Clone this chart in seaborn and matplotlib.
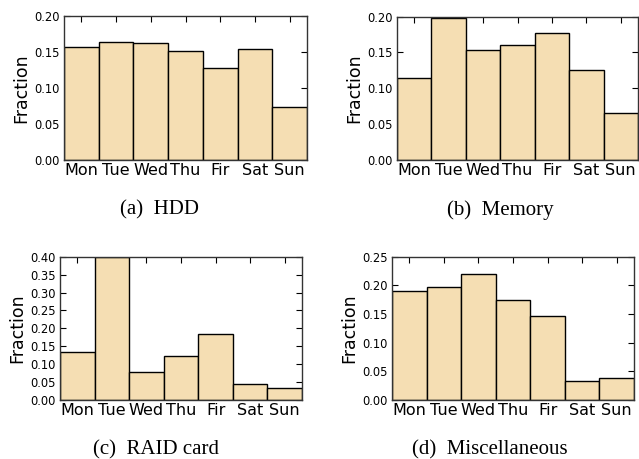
import matplotlib
matplotlib.use("Agg")
import matplotlib.pyplot as plt
import seaborn as sns
import numpy as np

days = ["Mon", "Tue", "Wed", "Thu", "Fir", "Sat", "Sun"]
hdd = [0.157, 0.164, 0.162, 0.152, 0.128, 0.154, 0.073]
memory = [0.114, 0.198, 0.153, 0.161, 0.177, 0.125, 0.066]
raid = [0.133, 0.400, 0.079, 0.122, 0.185, 0.046, 0.033]
misc = [0.191, 0.197, 0.219, 0.174, 0.146, 0.034, 0.038]

captions = ["(a)  HDD", "(b)  Memory", "(c)  RAID card", "(d)  Miscellaneous"]
ymaxes = [0.20, 0.20, 0.40, 0.25]

sns.set_style("ticks")
plt.rcParams["font.family"] = ["DejaVu Sans"]
plt.rcParams["text.color"] = "black"
plt.rcParams["axes.labelcolor"] = "black"
plt.rcParams["xtick.color"] = "black"
plt.rcParams["ytick.color"] = "black"

fig = plt.figure(figsize=(6.39, 4.59), dpi=100)

# axes rectangles [left, bottom, width, height] in figure fractions
rects = [
    [64 / 639, 1 - 160 / 459, (307 - 64) / 639, 144 / 459],
    [397 / 639, 1 - 160.3 / 459, (638 - 397) / 639, 143.8 / 459],
    [60 / 639, 1 - 400 / 459, (302 - 60) / 639, 143.3 / 459],
    [392 / 639, 1 - 400 / 459, (634 - 392) / 639, 143.3 / 459],
]
caption_pos = [(160 / 639, 1 - 210 / 459), (500 / 639, 1 - 210 / 459),
               (156 / 639, 1 - 450 / 459), (490 / 639, 1 - 450 / 459)]

datasets = [hdd, memory, raid, misc]

for rect, vals, ymax, cap, cpos in zip(rects, datasets, ymaxes, captions, caption_pos):
    ax = fig.add_axes(rect)
    sns.barplot(x=days, y=vals, ax=ax, color="#F5DEB3", saturation=1,
                edgecolor="black", linewidth=1.0, width=1.0)
    ax.set_xlim(-0.5, 6.5)
    ax.set_ylim(0, ymax)
    ticks = np.arange(0, ymax + 1e-9, 0.05)
    ax.set_yticks(ticks)
    ax.set_yticklabels([f"{t:.2f}" for t in ticks])
    ax.set_ylabel("Fraction", fontsize=12.5, labelpad=3, color="black")
    ax.set_xlabel("")
    ax.tick_params(axis="both", direction="in", top=True, right=True,
                   length=4, width=0.8, color="black", labelcolor="black")
    ax.tick_params(axis="x", labelsize=11.5, pad=2)
    ax.tick_params(axis="y", labelsize=8.3, pad=3)
    for s in ax.spines.values():
        s.set_visible(True)
        s.set_color("#333333")
        s.set_linewidth(1.0)
    fig.text(cpos[0], cpos[1], cap, ha="center", va="center", color="black",
             family="Liberation Serif", fontsize=15)

fig.savefig("out.png", dpi=100)
